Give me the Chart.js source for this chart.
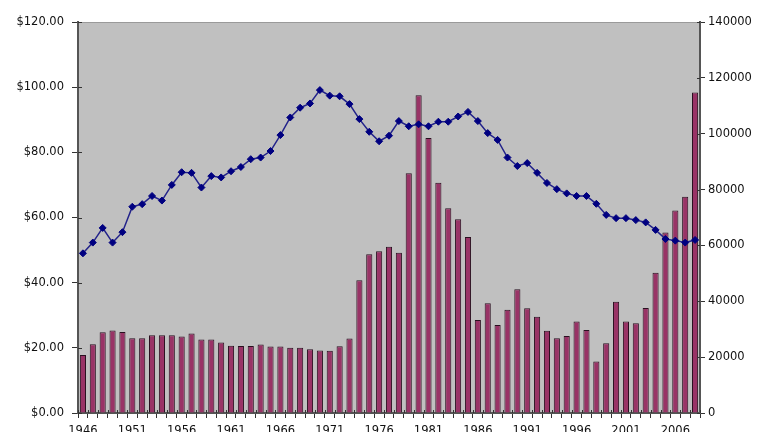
<!DOCTYPE html>
<html>
<head>
<meta charset="utf-8">
<script src="https://cdn.jsdelivr.net/npm/chart.js@4.4.1/dist/chart.umd.min.js"></script>
<style>
body { margin: 0; background: #fff; overflow: hidden; }
#wrap { width: 768px; height: 446px; }
</style>
</head>
<body>
<div id="wrap"><canvas id="myChart" width="768" height="446"></canvas></div>
<script>
// years 1946 - 2008
var years = [];
for (var y = 1946; y <= 2008; y++) years.push(String(y));

// bars, right axis
var barValues = [
  20800, 24600, 28900, 29500, 29000, 26800, 26800, 27850, 27850, 27850,
  27350, 28500, 26300, 26300, 25200, 24100, 24000, 24000, 24500, 23800,
  23800, 23400, 23400, 22850, 22350, 22300, 23900, 26700, 47500, 56800,
  57900, 59500, 57400, 85800, 113800, 98500, 82400, 73300, 69400, 63000,
  33300, 39270, 31500, 37000, 44270, 37500, 34500, 29450, 26800, 27600,
  32800, 29700, 18400, 25000, 39850, 32800, 32100, 37600, 50200, 64600,
  72500, 77400, 114800
];

// line, left axis ($)
var lineValues = [
  49.0, 52.3, 56.8, 52.3, 55.5, 63.3, 64.1, 66.6, 65.2, 70.0,
  73.9, 73.7, 69.2, 72.7, 72.3, 74.2, 75.5, 77.9, 78.4, 80.4,
  85.3, 90.7, 93.7, 95.0, 99.1, 97.4, 97.2, 94.8, 90.2, 86.3,
  83.4, 85.1, 89.6, 88.0, 88.6, 88.0, 89.4, 89.4, 91.0, 92.4,
  89.6, 85.9, 83.8, 78.4, 75.8, 76.7, 73.7, 70.6, 68.7, 67.4,
  66.6, 66.6, 64.2, 60.8, 59.8, 59.8, 59.2, 58.5, 56.2, 53.4,
  52.9, 52.3, 53.1
];

var leftTicks = [0, 20, 40, 60, 80, 100, 120];
var rightTicks = [0, 20000, 40000, 60000, 80000, 100000, 120000, 140000];

var plotBg = {
  id: 'plotBg',
  beforeDraw: function (chart) {
    var a = chart.chartArea, ctx = chart.ctx;
    ctx.save();
    ctx.fillStyle = '#c0c0c0';
    ctx.fillRect(a.left, a.top, a.right - a.left, a.bottom - a.top);
    ctx.strokeStyle = '#9a9a9a';
    ctx.lineWidth = 1;
    ctx.beginPath();
    ctx.moveTo(a.left, a.top + 0.5);
    ctx.lineTo(a.right, a.top + 0.5);
    ctx.stroke();
    ctx.restore();
  },
  // small tick marks on the inner side, like the crossing ticks
  afterDraw: function (chart) {
    var a = chart.chartArea, ctx = chart.ctx, s = chart.scales;
    ctx.save();
    ctx.strokeStyle = '#333';
    ctx.lineWidth = 1;
    ctx.beginPath();
    s.y.ticks.forEach(function (t) {
      var p = Math.round(s.y.getPixelForValue(t.value)) + 0.5;
      ctx.moveTo(a.left, p); ctx.lineTo(a.left + 4, p);
    });
    s.y1.ticks.forEach(function (t) {
      var p = Math.round(s.y1.getPixelForValue(t.value)) + 0.5;
      ctx.moveTo(a.right - 3, p); ctx.lineTo(a.right, p);
    });
    var n = years.length, w = (a.right - a.left) / n;
    for (var i = 0; i <= n; i++) {
      var x = Math.round(a.left + i * w) + 0.5;
      ctx.moveTo(x, a.bottom); ctx.lineTo(x, a.bottom - 3);
    }
    ctx.stroke();
    ctx.restore();
  }
};

var font = { family: '"DejaVu Sans", sans-serif', size: 11.5 };

var ctx = document.getElementById('myChart');
var myChart = new Chart(ctx, {
  type: 'bar',
  data: {
    labels: years,
    datasets: [
      {
        type: 'line',
        data: lineValues,
        yAxisID: 'y',
        borderColor: '#22228a',
        borderWidth: 1.5,
        pointStyle: 'rectRot',
        pointRadius: 3.5,
        pointBackgroundColor: '#000080',
        pointBorderColor: '#000080',
        pointBorderWidth: 1,
        tension: 0,
        order: 0
      },
      {
        data: barValues,
        yAxisID: 'y1',
        backgroundColor: '#993366',
        borderColor: '#2a1020',
        borderWidth: 1,
        barPercentage: 0.62,
        categoryPercentage: 1,
        order: 1
      }
    ]
  },
  plugins: [plotBg],
  options: {
    responsive: false,
    animation: false,
    layout: { padding: { top: 22, left: 0, right: 0, bottom: 0 } },
    plugins: { legend: { display: false }, tooltip: { enabled: false } },
    scales: {
      x: {
        offset: true,
        grid: { offset: true, drawOnChartArea: false, tickLength: 5, color: '#333', lineWidth: 1 },
        border: { color: '#555', width: 2 },
        ticks: {
          autoSkip: false, maxRotation: 0, minRotation: 0, padding: 6,
          color: '#111', font: font,
          callback: function (v, i) { return i % 5 === 0 ? years[i] : ''; }
        },
        afterFit: function (s) { s.height = 33; }
      },
      y: {
        position: 'left',
        min: 0, max: 120,
        afterBuildTicks: function (s) { s.ticks = leftTicks.map(function (v) { return { value: v }; }); },
        grid: { drawOnChartArea: false, tickLength: 6, color: '#333' },
        border: { color: '#555', width: 2 },
        ticks: {
          padding: 8, color: '#111', font: font,
          callback: function (v) { return '$' + v.toFixed(2); }
        },
        afterFit: function (s) { s.width = 78; }
      },
      y1: {
        position: 'right',
        min: 0, max: 140000,
        afterBuildTicks: function (s) { s.ticks = rightTicks.map(function (v) { return { value: v }; }); },
        grid: { drawOnChartArea: false, tickLength: 5, color: '#333' },
        border: { color: '#555', width: 2 },
        ticks: {
          padding: 3, color: '#111', font: font,
          callback: function (v) { return String(v); }
        },
        afterFit: function (s) { s.width = 68; }
      }
    }
  }
});
</script>
</body>
</html>
